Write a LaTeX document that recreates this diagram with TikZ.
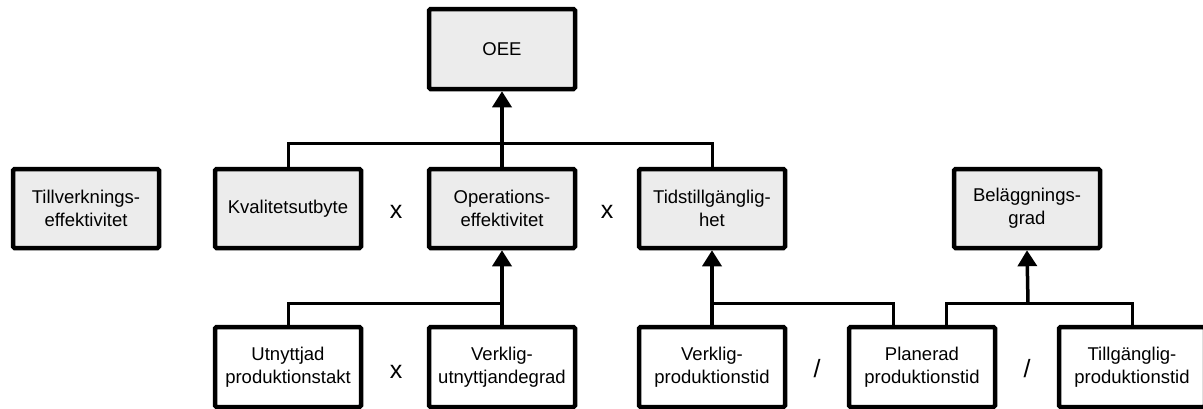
\documentclass[tikz,border=0pt]{standalone}
\usepackage{fontspec}
\setmainfont{Liberation Sans}
\usetikzlibrary{arrows.meta}
\definecolor{boxgray}{RGB}{236,236,236}
\begin{document}
\begin{tikzpicture}[x=1pt,y=-1pt,
  box/.style={draw=black, line width=4.5pt, rounded corners=1.5pt, minimum width=146pt, minimum height=79pt,
    inner sep=2pt, align=center, font=\fontsize{18.5}{23}\selectfont},
  graybox/.style={box, fill=boxgray},
  whitebox/.style={box, fill=white},
  link/.style={line width=3pt, line cap=rect},
  arrowlink/.style={line width=3.5pt, -{Triangle[width=19pt,length=16pt]}},
  op/.style={font=\fontsize{25}{28}\selectfont, inner sep=0pt}]
\useasboundingbox (0,0) rectangle (1203,408);
% top
\node[graybox, minimum height=80pt] (oee) at (502,49) {OEE};
% second row
\node[graybox] (till) at (86,208.5) {Tillverknings-\\effektivitet};
\node[graybox] (kval) at (288,208.5) {Kvalitetsutbyte};
\node[graybox] (oper) at (502,208.5) {Operations-\\effektivitet};
\node[graybox] (tids) at (712,208.5) {Tidstillgänglig-\\het};
\node[graybox] (bel) at (1027,208.5) {Beläggnings-\\grad};
% third row
\node[whitebox, minimum height=80pt] (utn) at (288,367) {Utnyttjad\\produktionstakt};
\node[whitebox, minimum height=80pt] (verku) at (502,367) {Verklig-\\utnyttjandegrad};
\node[whitebox, minimum height=80pt] (verkp) at (712,367) {Verklig-\\produktionstid};
\node[whitebox, minimum height=80pt] (plan) at (922,367) {Planerad\\produktionstid};
\node[whitebox, minimum height=80pt] (tillg) at (1132,367) {Tillgänglig-\\produktionstid};
% operators
\node[op] (o1) at (396,212) {x};
\node[op] (o2) at (607,212) {x};
\node[op] (o3) at (396,372) {x};
\node[op] (o4) at (817,369) {/};
\node[op] (o5) at (1027,369) {/};
% junctions
\coordinate (j1) at (502,143);
\coordinate (j2) at (502,303);
\coordinate (j3) at (712,303);
\coordinate (j4) at (1028,303);
\coordinate (pl) at (893,327);
\coordinate (pr) at (946,327);
% connectors
\draw[link] (kval.north) |- (j1) -| (tids.north);
\draw[arrowlink] (oper.north) -- (oee.south);
\draw[link] (utn.north) |- (j2);
\draw[arrowlink] (verku.north) -- (oper.south);
\draw[arrowlink] (verkp.north) -- (tids.south);
\draw[link] (j3) -| (pl);
\draw[link] (pr) |- (j4) -| (tillg.north);
\draw[arrowlink] (j4) -- (bel.south);
\end{tikzpicture}
\end{document}
